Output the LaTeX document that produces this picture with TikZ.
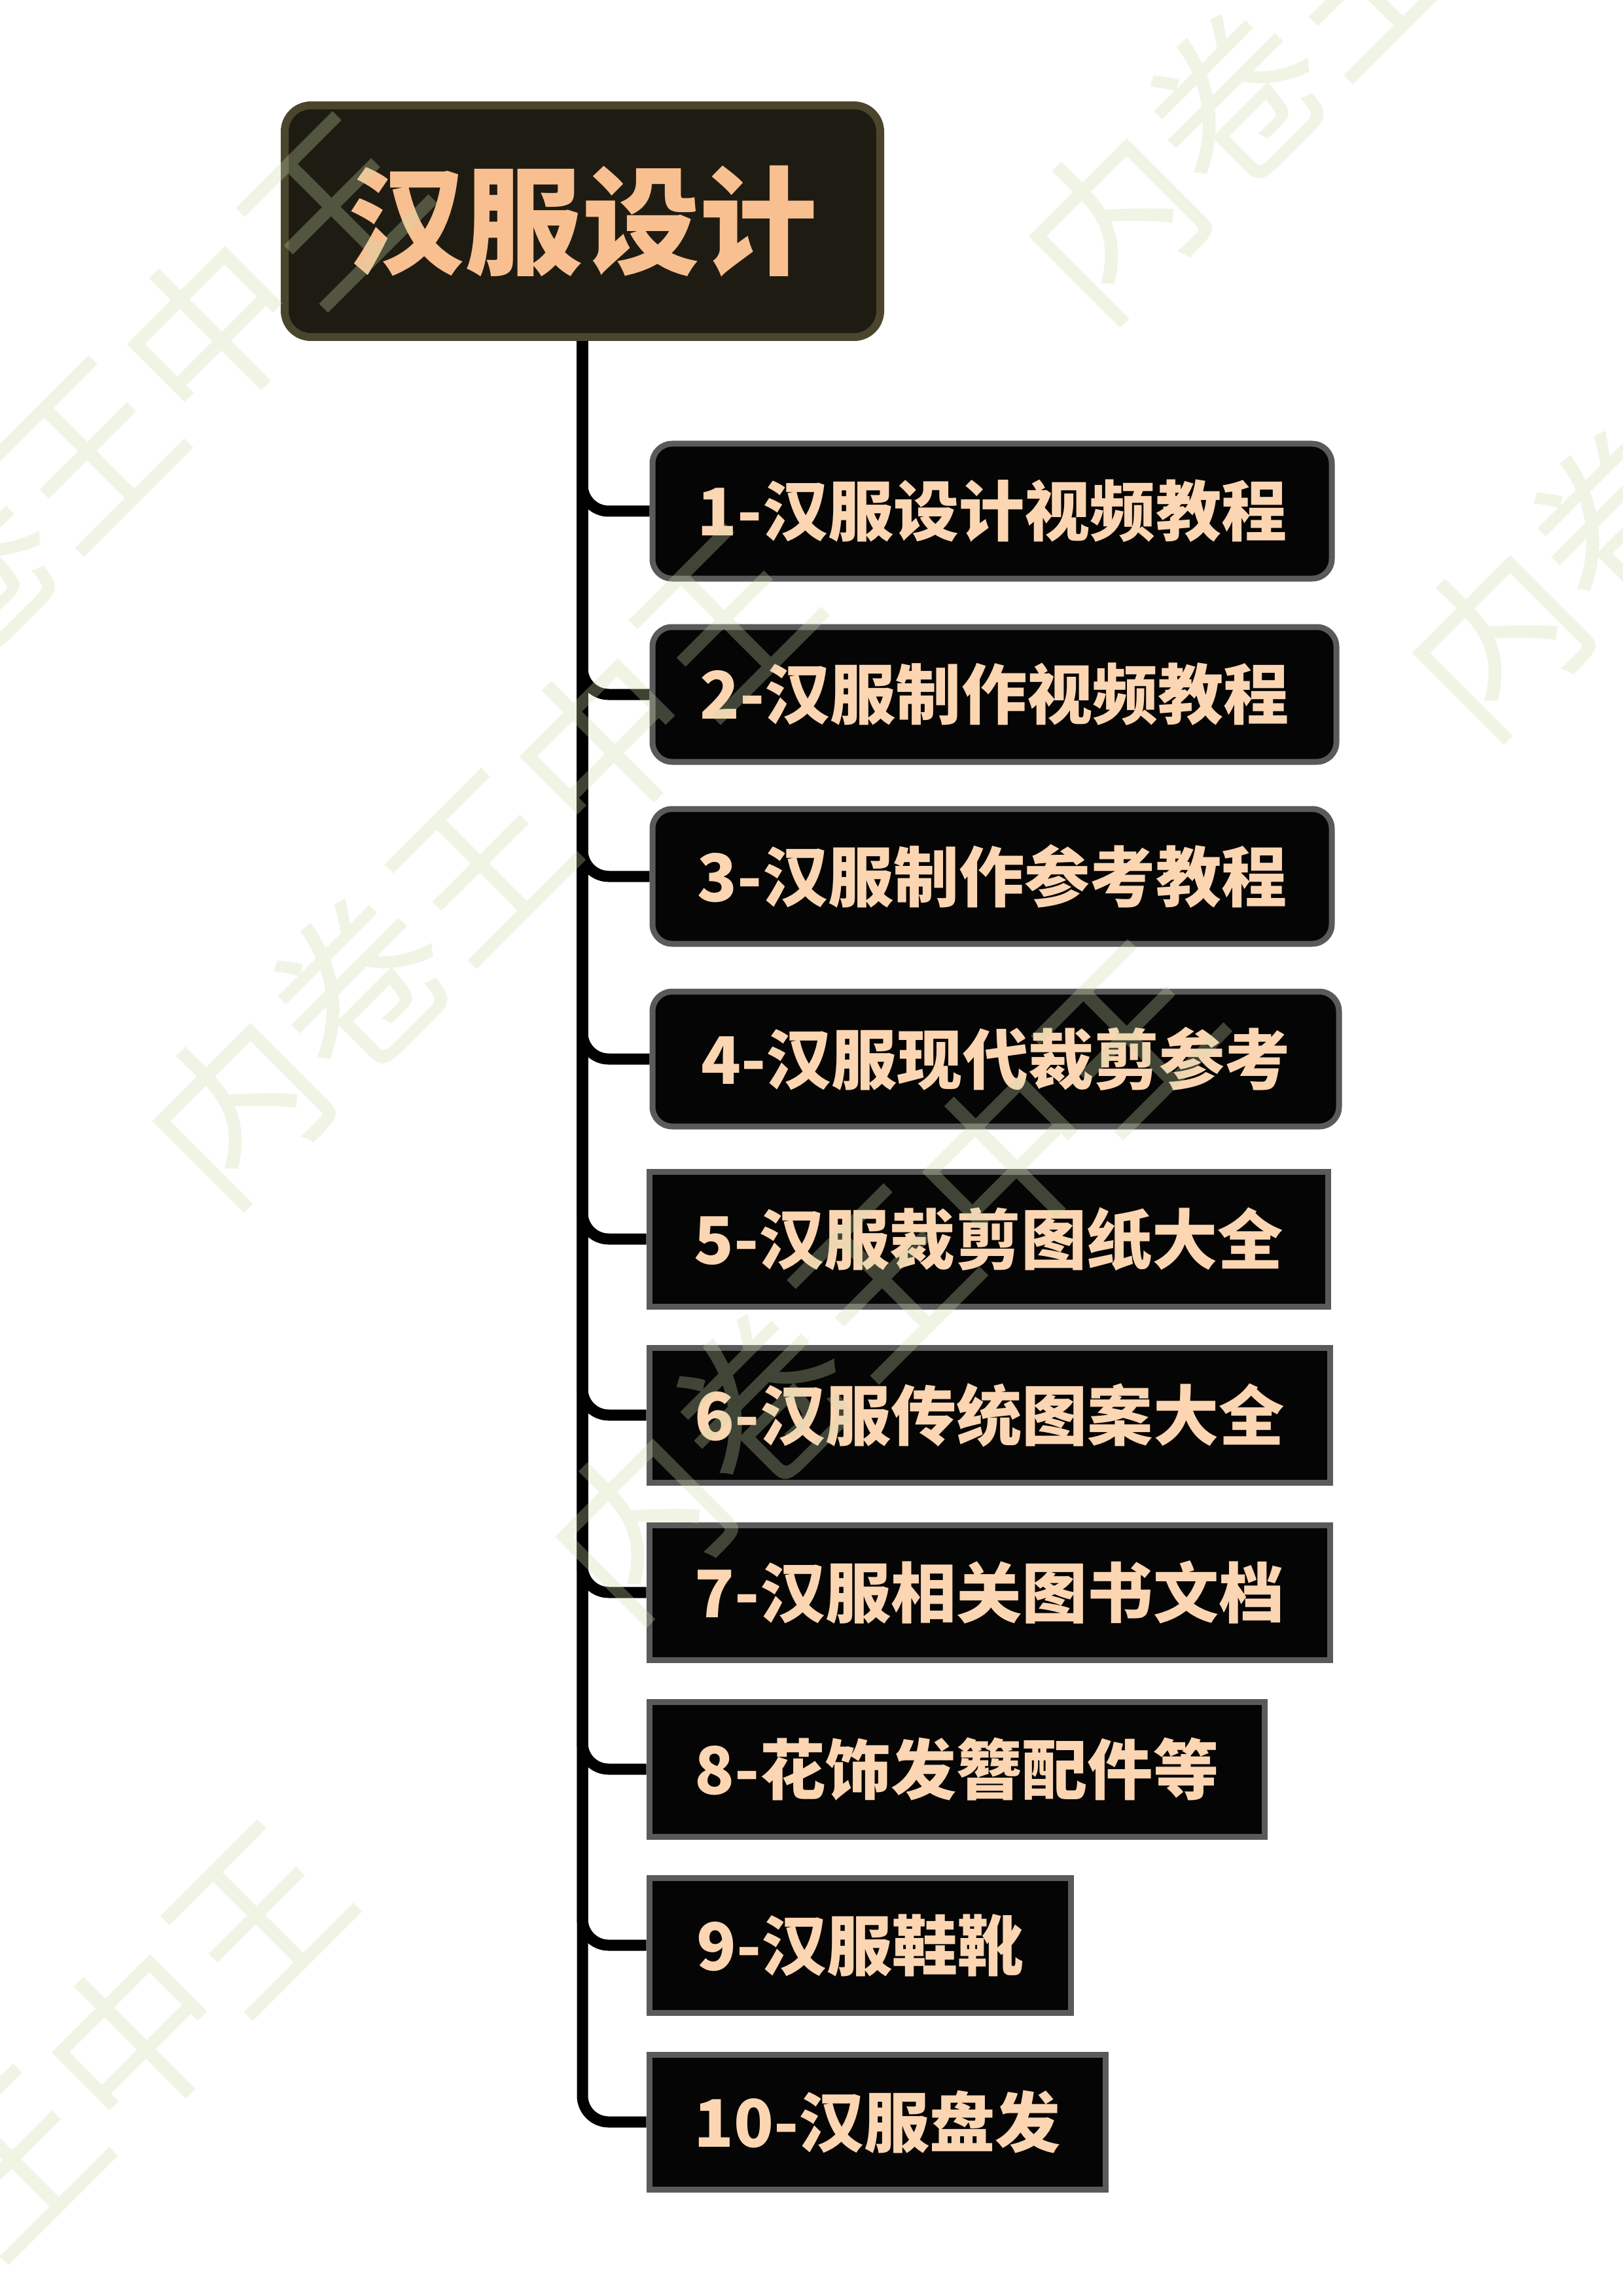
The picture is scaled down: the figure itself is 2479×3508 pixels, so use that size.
\documentclass[tikz,border=0pt]{standalone}
\usepackage{fontspec}
\setmainfont{Noto Sans CJK SC}
\newfontfamily\cjk{Noto Sans CJK SC}
\usetikzlibrary{backgrounds}
\definecolor{rootfill}{HTML}{1E1C12}
\definecolor{rootborder}{HTML}{4B452D}
\definecolor{roottext}{HTML}{F8C091}
\definecolor{childborder}{HTML}{5A5A5A}
\definecolor{childfill}{HTML}{050505}
\definecolor{childtext}{HTML}{FCD6B2}
\definecolor{wmcol}{RGB}{204,219,172}
\tikzset{
  rootbox/.style={draw=rootborder, fill=rootfill, line width=1.2mm, rounded corners=4mm,
    minimum width=91mm, minimum height=35.4mm, inner sep=0pt,
    font=\fontsize{51}{51}\selectfont\bfseries, text=roottext},
  cbox/.style={draw=childborder, fill=childfill, line width=0.9mm, minimum height=20.6mm,
    inner sep=0pt, anchor=west, font=\fontsize{28.5}{28.5}\selectfont\bfseries, text=childtext},
  rbox/.style={cbox, rounded corners=3mm},
  sbox/.style={cbox},
  conn/.style={draw=black, line width=1.7mm, rounded corners=4mm},
  wm/.style={font=\cjk\fontsize{75}{75}\selectfont, text=wmcol, text opacity=0.3, rotate=45, inner sep=0pt}
}
\begin{document}
\begin{tikzpicture}[x=0.1mm, y=-0.1mm]
\useasboundingbox (0,0) rectangle (2479,3508);
\begin{scope}[on background layer]
  \fill[white] (0,0) rectangle (2479,3508);
\end{scope}

\node[rootbox] (root) at (890,338) {汉服设计};

\node[rbox, minimum width=103.8mm] (c1) at (992.5,781) {1-汉服设计视频教程};
\node[rbox, minimum width=104.5mm] (c2) at (992.5,1061) {2-汉服制作视频教程};
\node[rbox, minimum width=103.8mm] (c3) at (992.5,1339) {3-汉服制作参考教程};
\node[rbox, minimum width=104.9mm] (c4) at (992.5,1618) {4-汉服现代裁剪参考};
\node[sbox, minimum width=103.7mm] (c5) at (987.5,1893) {5-汉服裁剪图纸大全};
\node[sbox, minimum width=104.0mm] (c6) at (987.5,2162) {6-汉服传统图案大全};
\node[sbox, minimum width=104.0mm] (c7) at (987.5,2433) {7-汉服相关图书文档};
\node[sbox, minimum width=94.0mm] (c8) at (987.5,2703) {8-花饰发簪配件等};
\node[sbox, minimum width=64.4mm] (c9) at (987.5,2972) {9-汉服鞋靴};
\node[sbox, minimum width=69.7mm] (c10) at (987.5,3242) {10-汉服盘发};

\begin{scope}[on background layer]
  \foreach \c in {c1,c2,c3,c4,c5,c6,c7,c8,c9,c10}
    \draw[conn] (root.south) |- (\c.west);
\end{scope}

\node[wm] (w1) at (135,690) {内卷王中王};
\node[wm] (w2) at (735,1320) {内卷王中王};
\node[wm] (w3) at (1350,1955) {内卷王中王};
\node[wm] (w4) at (2074,-32) {内卷王中王};
\node[wm] (w5) at (2660,605) {内卷王中王};
\node[wm] (w6) at (20,3300) {内卷王中王};
\end{tikzpicture}
\end{document}
